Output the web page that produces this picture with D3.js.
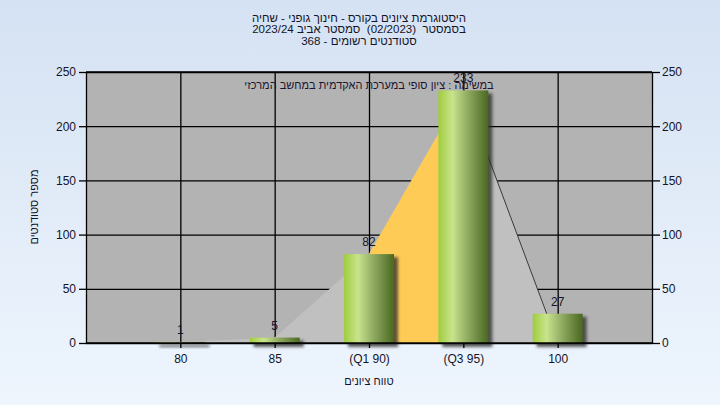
<!DOCTYPE html>
<html><head><meta charset="utf-8">
<script src="https://cdn.jsdelivr.net/npm/d3@7"></script>
<style>html,body{margin:0;padding:0;}svg{display:block;}</style>
</head><body>
<svg id="c" width="720" height="405"></svg>
<script>
const titleLines = ["היסטוגרמת ציונים בקורס - חינוך גופני - שחיה", "בסמסטר  (02/2023)  סמסטר אביב 2023/24", "סטודנטים רשומים - 368"];
const legendText = "במשימה : ציון סופי במערכת האקדמית במחשב המרכזי";
const yTitle = "מספר סטודנטים";
const xTitle = "טווח ציונים";
const categories = ["80", "85", "(Q1 90)", "(Q3 95)", "100"];
const counts = [1, 5, 82, 233, 27];
const areaValues = [1, 5, 82, 233, 0];
const iqrIndex = [2, 3];
const yTicks = [0, 50, 100, 150, 200, 250];

const svg = d3.select("#c");
const W = 720, H = 405;
const M = {l: 86, r: 652, t: 72, b: 343};
const font = "'Liberation Sans', Arial, sans-serif";
const defs = svg.append("defs");

// One text element per word; words placed from the right edge leftwards.
function wordText(parent, str, cx, y, size, fill) {
  const g = parent.append("g").attr("font-family", font).attr("font-size", size).attr("fill", fill);
  const words = str.split(" ");
  const spaceW = size * 0.278;
  const nodes = words.map(w => g.append("text").attr("y", y).text(w));
  const widths = nodes.map((n, i) => words[i] === "" ? 0 : n.node().getComputedTextLength());
  const total = d3.sum(widths) + spaceW * (words.length - 1);
  let xPos = cx + total / 2;
  nodes.forEach((n, i) => { xPos -= widths[i]; n.attr("x", xPos); xPos -= spaceW; });
  return g;
}

const bg = defs.append("linearGradient").attr("id", "bg").attr("x1", 0).attr("y1", 0).attr("x2", 0).attr("y2", 1);
bg.append("stop").attr("offset", 0).attr("stop-color", "#d5e2f3");
bg.append("stop").attr("offset", 1).attr("stop-color", "#eef5fd");

const bar = defs.append("linearGradient").attr("id", "bar").attr("x1", 0).attr("y1", 0).attr("x2", 1).attr("y2", 0);
[[0, "#9fcc3e"], [0.28, "#c9e48c"], [0.6, "#8ea860"], [1, "#4a6820"]].forEach(([o, c]) =>
  bar.append("stop").attr("offset", o).attr("stop-color", c));

const blur = defs.append("filter").attr("id", "sh").attr("x", "-50%").attr("y", "-50%").attr("width", "200%").attr("height", "200%");
blur.append("feGaussianBlur").attr("stdDeviation", 1.6);

svg.append("rect").attr("width", W).attr("height", H).attr("fill", "url(#bg)");

const x = d3.scalePoint().domain(categories).range([M.l, M.r]).padding(1);
const y = d3.scaleLinear().domain([0, 250]).range([M.b, M.t]);

svg.append("rect").attr("x", M.l).attr("y", M.t).attr("width", M.r - M.l).attr("height", M.b - M.t).attr("fill", "#b3b3b3");

// grid
const gy = svg.append("g").attr("transform", `translate(${M.l},0)`)
  .call(d3.axisLeft(y).tickValues(yTicks).tickSize(-(M.r - M.l)).tickFormat(""));
gy.select(".domain").remove();
gy.selectAll("line").attr("stroke", "#000").attr("stroke-width", 1.3);
const gx = svg.append("g").attr("transform", `translate(0,${M.b})`)
  .call(d3.axisBottom(x).tickSize(-(M.b - M.t)).tickFormat(""));
gx.select(".domain").remove();
gx.selectAll("line").attr("stroke", "#000").attr("stroke-width", 1.3);

// areas
const pts = categories.map((c, i) => ({c, v: areaValues[i], n: counts[i]}));
const area = d3.area().x(d => x(d.c)).y0(y(0)).y1(d => y(d.v));
svg.append("path").datum(pts).attr("d", area).attr("fill", "#c0c0c0");
const iqr = pts.slice(iqrIndex[0], iqrIndex[1] + 1).map(d => ({c: d.c, v: d.n}));
svg.append("path").datum(iqr).attr("d", area).attr("fill", "#fecb57");
svg.append("path").datum(pts.slice(3)).attr("d", d3.line().x(d => x(d.c)).y(d => y(d.v)))
  .attr("fill", "none").attr("stroke", "#3a3a3a").attr("stroke-width", 1);

// bars
const bw = 50;
svg.append("g").selectAll("rect").data(pts).join("rect")
  .attr("x", d => x(d.c) - bw / 2 + 4).attr("y", d => y(d.n) + 3)
  .attr("width", bw).attr("height", d => y(0) - y(d.n) + 1)
  .attr("fill", "#2a2a2a").attr("opacity", 0.75).attr("filter", "url(#sh)");
svg.append("g").selectAll("rect").data(pts).join("rect")
  .attr("x", d => x(d.c) - bw / 2).attr("y", d => y(d.n))
  .attr("width", bw).attr("height", d => y(0) - y(d.n))
  .attr("fill", "url(#bar)");

// axes
const styleAxis = g => {
  g.selectAll(".domain").attr("stroke", "#000").attr("stroke-width", 1.3);
  g.selectAll(".tick line").attr("stroke", "#000").attr("stroke-width", 1.3);
  g.selectAll("text").attr("font-family", font).attr("font-size", 12).attr("fill", "#141428");
};
svg.append("g").attr("transform", `translate(${M.l},0)`)
  .call(d3.axisLeft(y).tickValues(yTicks).tickSize(7).tickSizeOuter(0).tickPadding(3)).call(styleAxis);
svg.append("g").attr("transform", `translate(${M.r},0)`)
  .call(d3.axisRight(y).tickValues(yTicks).tickSize(8).tickSizeOuter(0).tickPadding(2)).call(styleAxis);
svg.append("g").attr("transform", `translate(0,${M.b})`)
  .call(d3.axisBottom(x).tickSize(5).tickSizeOuter(0).tickPadding(6)).call(styleAxis)
  .selectAll(".domain").attr("d", `M${M.l},0H${M.r}`);
svg.append("line").attr("x1", M.l).attr("x2", M.r).attr("y1", M.t).attr("y2", M.t).attr("stroke", "#000").attr("stroke-width", 1.3);

// value labels
svg.append("g").selectAll("text").data(pts).join("text")
  .attr("x", d => x(d.c)).attr("y", d => y(d.n) - 8)
  .attr("text-anchor", "middle").attr("font-family", font).attr("font-size", 12).attr("fill", "#141428")
  .text(d => d.n);

// legend text
wordText(svg, legendText, (M.l + M.r) / 2, 89, 11, "#1e1430");

// titles
titleLines.forEach((line, i) => wordText(svg, line, 359, 22 + i * 11.3, 11.5, "#141428"));

svg.append("text").attr("transform", "translate(38,207) rotate(-90)").attr("text-anchor", "middle")
  .attr("font-family", font).attr("font-size", 11).attr("fill", "#141428").text(yTitle);
wordText(svg, xTitle, (M.l + M.r) / 2, 385, 11, "#141428");
</script>
</body></html>
